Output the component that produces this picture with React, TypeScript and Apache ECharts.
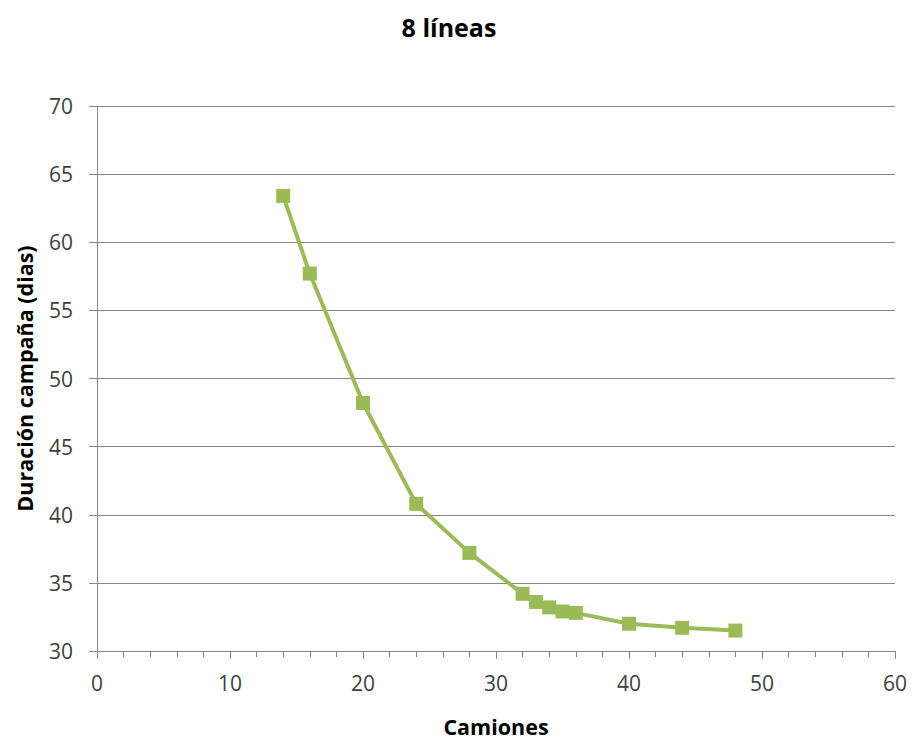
import React, { useEffect, useRef } from "react";
import * as echarts from "echarts";

const camiones = [14, 16, 20, 24, 28, 32, 33, 34, 35, 36, 40, 44, 48];
const duracion = [63.4, 57.7, 48.2, 40.8, 37.2, 34.2, 33.6, 33.2, 32.9, 32.8, 32.0, 31.7, 31.5];
const titleText = "8 líneas";
const xName = "Camiones";
const yName = "Duración campaña (dias)";

export default function App() {
  const ref = useRef<HTMLDivElement>(null);
  useEffect(() => {
    if (!ref.current) return;
    const chart = echarts.init(ref.current, null, { renderer: "svg" });
    const font = "'Open Sans', 'Liberation Sans', sans-serif";
    chart.setOption({
      animation: false,
      backgroundColor: "#ffffff",
      textStyle: { fontFamily: font },
      title: {
        text: titleText,
        left: 444,
        top: 9,
        textAlign: "center",
        textStyle: { fontSize: 25, fontWeight: "bold", color: "#000", fontFamily: font },
      },
      grid: { left: 97, right: 18, top: 106, bottom: 88, containLabel: false },
      xAxis: {
        type: "value",
        min: 0,
        max: 60,
        interval: 10,
        name: xName,
        nameLocation: "middle",
        nameGap: 64,
        nameTextStyle: { fontSize: 21.5, fontWeight: "bold", color: "#000", fontFamily: font },
        axisLine: { show: true, lineStyle: { color: "#868686", width: 1 } },
        axisTick: { show: true, length: 8, lineStyle: { color: "#868686" } },
        minorTick: { show: true, splitNumber: 5, length: 6, lineStyle: { color: "#868686" } },
        axisLabel: { fontSize: 21, color: "#404040", margin: 21, fontFamily: font },
        splitLine: { show: false },
      },
      yAxis: {
        type: "value",
        min: 30,
        max: 70,
        interval: 5,
        name: yName,
        nameLocation: "middle",
        nameGap: 62,
        nameRotate: 90,
        nameTextStyle: { fontSize: 21.5, fontWeight: "bold", color: "#000", fontFamily: font },
        axisLine: { show: true, lineStyle: { color: "#868686", width: 1 } },
        axisTick: { show: true, length: 8, lineStyle: { color: "#868686" } },
        axisLabel: { fontSize: 21, color: "#404040", margin: 24, fontFamily: font },
        splitLine: { show: true, lineStyle: { color: "#868686", width: 1 } },
      },
      series: [
        {
          type: "line",
          data: camiones.map((c, i) => [c, duracion[i]]),
          symbol: "rect",
          symbolSize: 14,
          lineStyle: { color: "#9BBB59", width: 4 },
          itemStyle: { color: "#9BBB59" },
        },
      ],
    });
    return () => chart.dispose();
  }, []);
  return (
    <div
      ref={ref}
      style={{ position: "fixed", left: 0, top: 0, width: 913, height: 742, background: "#fff" }}
    />
  );
}
